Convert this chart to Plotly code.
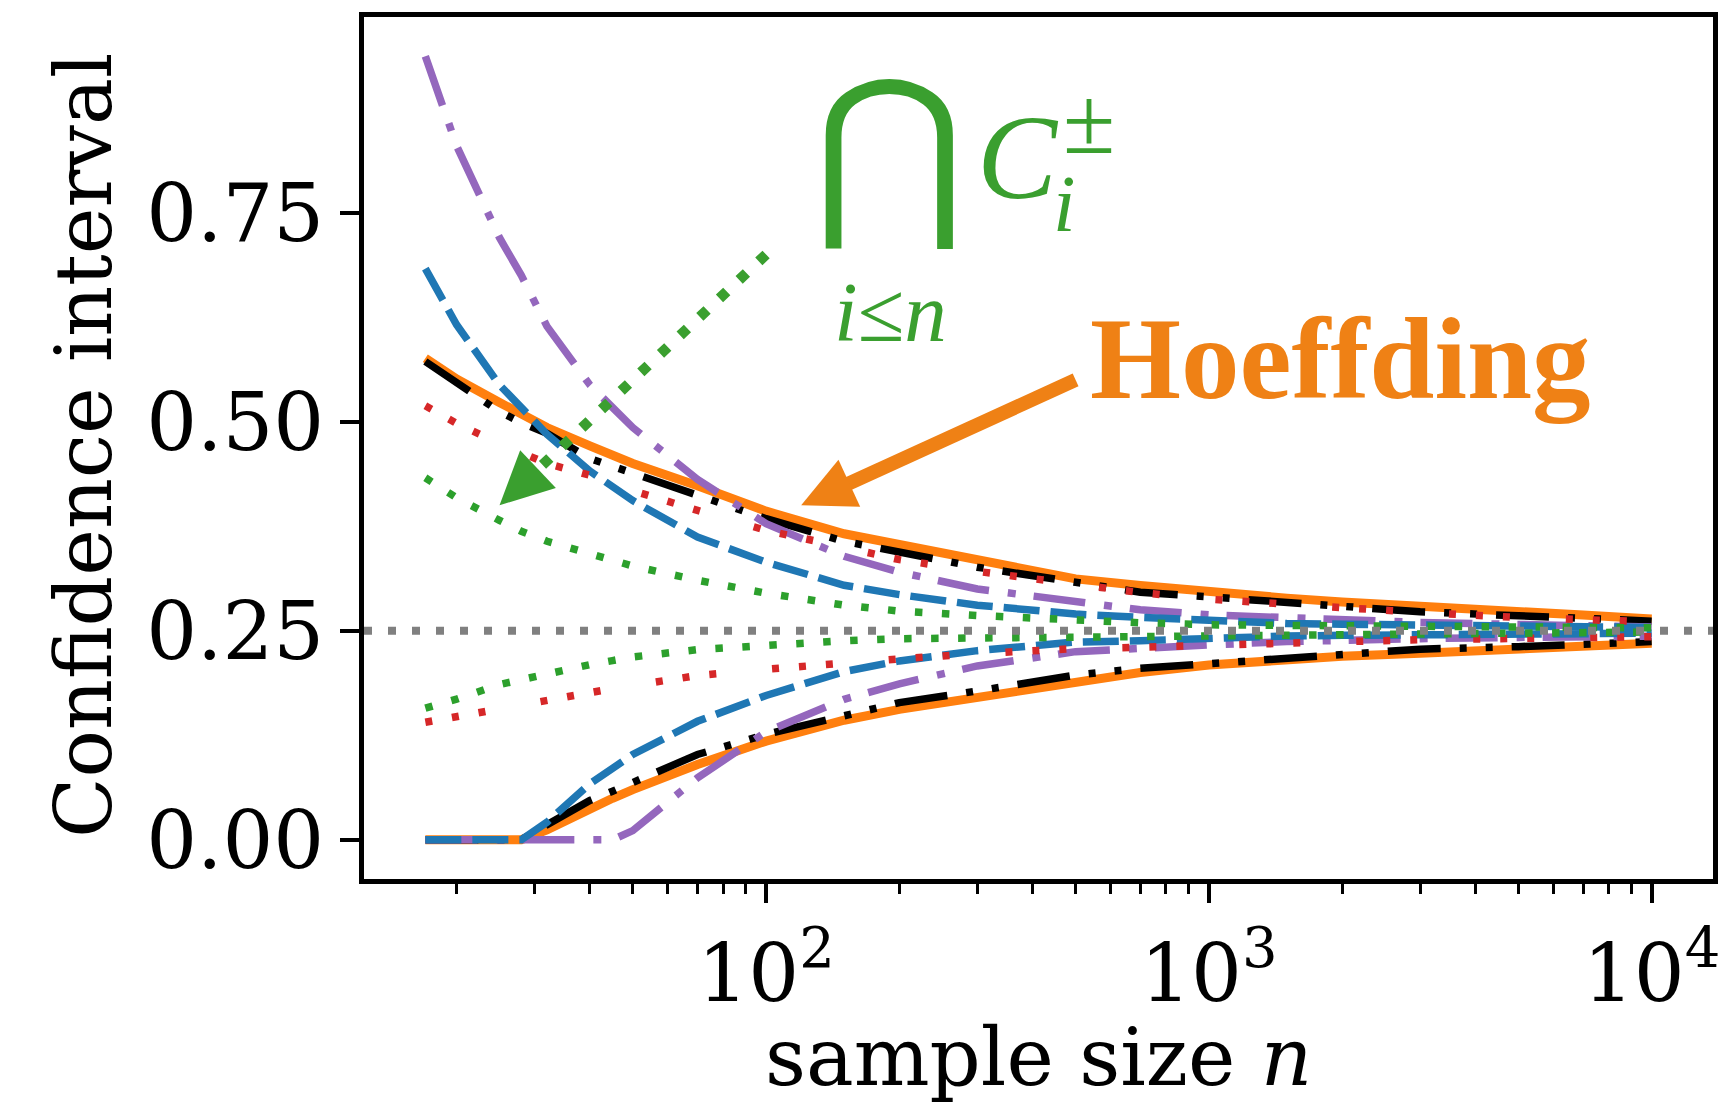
import math
import plotly.graph_objects as go

# ---------------- data ----------------
n = [17, 20, 25, 28, 32, 40, 45, 50, 70, 100, 150, 200, 300, 500, 700, 1000,
     1500, 2000, 3000, 5000, 7000, 10000]

hoeffding_upper = [0.576, 0.551, 0.523, 0.5085, 0.493, 0.471, 0.460, 0.450, 0.4234, 0.393,
                   0.366, 0.353, 0.334, 0.312, 0.304, 0.296, 0.289, 0.2845, 0.2786, 0.2726,
                   0.2687, 0.264]
hoeffding_lower = [0.0, 0.0, 0.0, 0.0, 0.012, 0.038, 0.0496, 0.060, 0.090, 0.118,
                   0.143, 0.156, 0.171, 0.190, 0.200, 0.209, 0.216, 0.2195, 0.223, 0.228,
                   0.232, 0.235]

black_upper = [0.572, 0.546, 0.512, 0.499, 0.486, 0.456, 0.447, 0.439, 0.4115, 0.384,
               0.357, 0.345, 0.326, 0.308, 0.296, 0.2905, 0.2835, 0.2786, 0.2726, 0.2679,
               0.264, 0.2615]
black_lower = [0.0, 0.0, 0.0, 0.0, 0.018, 0.047, 0.058, 0.068, 0.102, 0.126,
               0.149, 0.164, 0.178, 0.197, 0.205, 0.211, 0.218, 0.223, 0.228, 0.231,
               0.235, 0.237]

purple_upper = [0.937, 0.83, 0.72, 0.675, 0.614, 0.544, 0.517, 0.493, 0.431, 0.378,
                0.339, 0.320, 0.300, 0.284, 0.275, 0.269, 0.265, 0.2627, 0.2599, 0.2575,
                0.256, 0.2544]
purple_lower = [0.0, 0.0, 0.0, 0.0, 0.0, 0.0, 0.0, 0.011, 0.0741, 0.129,
                0.168, 0.1865, 0.2079, 0.225, 0.2298, 0.233, 0.237, 0.239, 0.2405, 0.242,
                0.243, 0.2435]

blue_upper = [0.683, 0.616, 0.544, 0.518, 0.485, 0.441, 0.4223, 0.4056, 0.362, 0.332,
              0.3044, 0.2932, 0.2806, 0.2699, 0.2659, 0.2615, 0.2587, 0.2579, 0.2567, 0.2556,
              0.2548, 0.254]
blue_lower = [0.0, 0.0, 0.0, 0.0, 0.021, 0.067, 0.0854, 0.102, 0.1417, 0.1726,
              0.2012, 0.2139, 0.2262, 0.2365, 0.2381, 0.2413, 0.2437, 0.2445, 0.2452, 0.246,
              0.2465, 0.247]

red_upper = [0.519, 0.498, 0.474, 0.463, 0.450, 0.436, 0.4263, 0.4175, 0.394, 0.370,
             0.350, 0.335, 0.321, 0.305, 0.2956, 0.2877, 0.2815, 0.2774, 0.2718, 0.2658,
             0.2635, 0.2607]
red_lower = [0.1405, 0.1476, 0.157, 0.162, 0.1675, 0.1766, 0.1808, 0.1845, 0.1964, 0.204,
             0.212, 0.2163, 0.2226, 0.2286, 0.2302, 0.233, 0.236, 0.2369, 0.2393, 0.2413,
             0.2421, 0.2429]

green_upper = [0.433, 0.409, 0.382, 0.369, 0.357, 0.3417, 0.3342, 0.3274, 0.3104, 0.2949,
               0.2806, 0.2735, 0.2682, 0.2623, 0.2595, 0.2571, 0.256, 0.2555, 0.255, 0.2545,
               0.254, 0.2535]
green_lower = [0.1575, 0.1682, 0.1857, 0.1917, 0.1968, 0.2095, 0.2143, 0.2187, 0.2274, 0.2333,
               0.238, 0.2405, 0.2413, 0.2433, 0.2445, 0.245, 0.2458, 0.2465, 0.247, 0.2475,
               0.248, 0.2485]

true_value = 0.25

y_tick_vals = [0.0, 0.25, 0.50, 0.75]
y_tick_text = ["0.00", "0.25", "0.50", "0.75"]
x_tick_vals = [100, 1000, 10000]
x_tick_text = ["10<sup>2</sup>", "10<sup>3</sup>", "10<sup>4</sup>"]
x_minor_vals = [d * 10 ** k for k in (1, 2, 3) for d in range(2, 10)]

# annotation anchors in data coordinates (tail, tip)
green_arrow_tail, green_arrow_tip = (100, 0.70), (25, 0.40)
orange_arrow_tail, orange_arrow_tip = (500, 0.55), (120, 0.40)

# ---------------- layout geometry ----------------
W, H = 1736, 1103
M = dict(l=364, r=23, t=13, b=224)
PW = W - M["l"] - M["r"]
PH = H - M["t"] - M["b"]
X_RANGE = [1.0919, 4.1385]
Y_RANGE = [-0.0469, 0.984]

FONT = "DejaVu Serif"
MATH = "Liberation Serif"
TXT_GREEN = "#3a9f2f"
TXT_ORANGE = "#ef8115"


def data_to_px(nv, v):
    x = M["l"] + (math.log10(nv) - X_RANGE[0]) / (X_RANGE[1] - X_RANGE[0]) * PW
    y = M["t"] + (Y_RANGE[1] - v) / (Y_RANGE[1] - Y_RANGE[0]) * PH
    return x, y


def px_to_paper(x, y):
    return (x - M["l"]) / PW, (M["t"] + PH - y) / PH


def arrow_shapes(tail, tip, color, width, dash, head_len=53, head_half=26):
    tx, ty = data_to_px(*tail)
    hx, hy = data_to_px(*tip)
    dx, dy = hx - tx, hy - ty
    d = math.hypot(dx, dy)
    ux, uy = dx / d, dy / d
    bx, by = hx - ux * head_len, hy - uy * head_len
    ex, ey = bx + ux * 4, by + uy * 4
    p1 = (bx - uy * head_half, by + ux * head_half)
    p2 = (bx + uy * head_half, by - ux * head_half)
    a0 = px_to_paper(tx, ty)
    a1 = px_to_paper(ex, ey)
    t0 = px_to_paper(hx, hy)
    t1 = px_to_paper(*p1)
    t2 = px_to_paper(*p2)
    line = dict(type="line", xref="paper", yref="paper", layer="above",
                x0=a0[0], y0=a0[1], x1=a1[0], y1=a1[1],
                line=dict(color=color, width=width, dash=dash))
    head = dict(type="path", xref="paper", yref="paper", layer="above",
                path="M {:.5f},{:.5f} L {:.5f},{:.5f} L {:.5f},{:.5f} Z".format(
                    t0[0], t0[1], t1[0], t1[1], t2[0], t2[1]),
                fillcolor=color, line=dict(width=0))
    return [line, head]


def text_at(text, x, y, size, color, family=MATH, xanchor="center", yanchor="middle", angle=0):
    px, py = px_to_paper(x, y)
    return dict(text=text, x=px, y=py, xref="paper", yref="paper", showarrow=False,
                xanchor=xanchor, yanchor=yanchor, textangle=angle,
                font=dict(family=family, size=size, color=color))


fig = go.Figure()

series = [
    (hoeffding_upper, hoeffding_lower, "#ff7f0e", 9, "solid"),
    (black_upper, black_lower, "black", 7.5, "53px,19px,7px,19px,7px,19px"),
    (purple_upper, purple_lower, "#9467bd", 7.5, "52px,19px,8px,18px"),
    (blue_upper, blue_lower, "#1f77b4", 7.5, "36px,11px"),
    (red_upper, red_lower, "#d62728", 7.5, "7px,20px,7px,20px,7px,56px"),
    (green_upper, green_lower, "#2ca02c", 7.5, "7.5px,19.5px"),
]
for up, lo, col, wd, ds in series:
    for ys in (up, lo):
        fig.add_trace(go.Scatter(x=n, y=ys, mode="lines", showlegend=False,
                                 line=dict(color=col, width=wd, dash=ds),
                                 hoverinfo="skip"))

shapes = [dict(type="line", xref="paper", yref="y", x0=0, x1=1, y0=true_value, y1=true_value,
               layer="above", line=dict(color="#808080", width=8, dash="8px,16px"))]
shapes += arrow_shapes(green_arrow_tail, green_arrow_tip, TXT_GREEN, 10.5, "10px,17px")
shapes += arrow_shapes(orange_arrow_tail, orange_arrow_tip, TXT_ORANGE, 14, "solid")

annotations = [
    text_at("<b>Hoeffding</b>", 1088, 396 - 0.3375 * 117, 117, TXT_ORANGE, xanchor="left"),
    text_at("\u22c2", 889, 145, 186, TXT_GREEN, family="DejaVu Serif"),
    text_at("<i>i</i>\u2264<i>n</i>", 890, 338 - 0.3375 * 85, 85, TXT_GREEN),
    text_at("<i>C</i>", 1018, 195 - 0.3375 * 120, 120, TXT_GREEN),
    text_at("\u00b1", 1089, 150 - 0.3375 * 95, 95, TXT_GREEN),
    text_at("<i>i</i>", 1064, 228 - 0.3375 * 81, 81, TXT_GREEN),
    text_at("Confidence interval", 84, 444, 79, "black", family=FONT, angle=-90),
    text_at("sample size <i>n</i>", 1038, 1086 - 0.346 * 80, 80, "black", family=FONT),
]

fig.update_layout(
    width=W, height=H, margin=dict(l=M["l"], r=M["r"], t=M["t"], b=M["b"], pad=0),
    paper_bgcolor="white", plot_bgcolor="white", showlegend=False,
    shapes=shapes, annotations=annotations,
    font=dict(family=FONT, size=80, color="black"),
)
fig.update_xaxes(
    type="log", range=X_RANGE, showgrid=False, zeroline=False,
    showline=True, mirror=True, linecolor="black", linewidth=4.5,
    ticks="outside", ticklen=19, tickwidth=3.5, tickcolor="black",
    tickmode="array", tickvals=x_tick_vals, ticktext=x_tick_text,
    tickfont=dict(family=FONT, size=80, color="black"), ticklabelstandoff=2,
    minor=dict(ticks="outside", ticklen=10, tickwidth=2.5, tickcolor="black",
               tickmode="array", tickvals=x_minor_vals, showgrid=False),
)
fig.update_yaxes(
    range=Y_RANGE, showgrid=False, zeroline=False,
    showline=True, mirror=True, linecolor="black", linewidth=4.5,
    ticks="outside", ticklen=19, tickwidth=3.5, tickcolor="black",
    tickmode="array", tickvals=y_tick_vals, ticktext=y_tick_text,
    tickfont=dict(family=FONT, size=80, color="black"), ticklabelstandoff=0,
)

fig.write_html("out.html")
